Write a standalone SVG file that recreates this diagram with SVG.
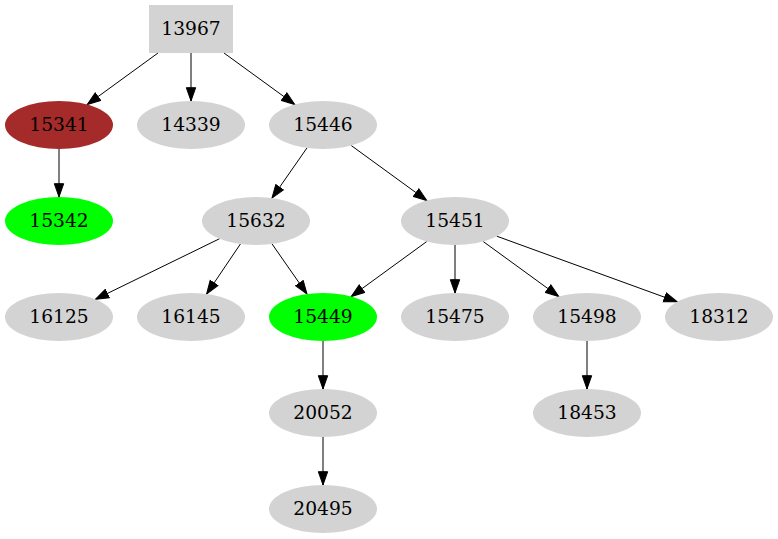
<svg xmlns="http://www.w3.org/2000/svg" width="778" height="539" viewBox="0 0 778 539">
<defs>
<marker id="ah" markerUnits="userSpaceOnUse" markerWidth="16" markerHeight="12" refX="13.8" refY="5.67" orient="auto">
<path d="M0.5,1 L13.8,5.67 L0.5,10.33 z" fill="#000" stroke="#000" stroke-width="1"/>
</marker>
</defs>
<style>
text{font-family:"DejaVu Serif","Liberation Serif",serif;font-size:18.67px;text-anchor:middle;fill:#000}
.n{fill:#d3d3d3}
.e line{stroke:#000;stroke-width:1;marker-end:url(#ah)}
</style>
<rect width="778" height="539" fill="#fff"/>
<g class="e" id="edges">
<line x1="158" y1="53" x2="87.2" y2="104.5"/>
<line x1="191" y1="53" x2="191" y2="101"/>
<line x1="224" y1="53" x2="294.8" y2="104.5"/>
<line x1="59" y1="149" x2="59" y2="197"/>
<line x1="307" y1="147.9" x2="272" y2="198.1"/>
<line x1="351.2" y1="145.5" x2="426.8" y2="200.5"/>
<line x1="219.6" y1="238.7" x2="95.4" y2="299.3"/>
<line x1="240.4" y1="244" x2="206.6" y2="294"/>
<line x1="272" y1="243.9" x2="307" y2="294.1"/>
<line x1="426.8" y1="241.5" x2="351.2" y2="296.5"/>
<line x1="455" y1="245" x2="455" y2="293"/>
<line x1="483.2" y1="241.5" x2="558.8" y2="296.5"/>
<line x1="496.8" y1="236.2" x2="677.2" y2="301.8"/>
<line x1="323" y1="341" x2="323" y2="389"/>
<line x1="587" y1="341" x2="587" y2="389"/>
<line x1="323" y1="437" x2="323" y2="485"/>
</g>
<g id="n13967"><rect class="n" x="149" y="5" width="84" height="48"/><text x="191" y="35">13967</text></g>
<g id="n15341"><ellipse cx="59" cy="125" rx="54" ry="24" fill="#a52a2a"/><text x="59" y="131">15341</text></g>
<g id="n14339"><ellipse class="n" cx="191" cy="125" rx="54" ry="24"/><text x="191" y="131">14339</text></g>
<g id="n15446"><ellipse class="n" cx="323" cy="125" rx="54" ry="24"/><text x="323" y="131">15446</text></g>
<g id="n15342"><ellipse cx="59" cy="221" rx="54" ry="24" fill="#00ff00"/><text x="59" y="227">15342</text></g>
<g id="n15632"><ellipse class="n" cx="256" cy="221" rx="54" ry="24"/><text x="256" y="227">15632</text></g>
<g id="n15451"><ellipse class="n" cx="455" cy="221" rx="54" ry="24"/><text x="455" y="227">15451</text></g>
<g id="n16125"><ellipse class="n" cx="59" cy="317" rx="54" ry="24"/><text x="59" y="323">16125</text></g>
<g id="n16145"><ellipse class="n" cx="191" cy="317" rx="54" ry="24"/><text x="191" y="323">16145</text></g>
<g id="n15449"><ellipse cx="323" cy="317" rx="54" ry="24" fill="#00ff00"/><text x="323" y="323">15449</text></g>
<g id="n15475"><ellipse class="n" cx="455" cy="317" rx="54" ry="24"/><text x="455" y="323">15475</text></g>
<g id="n15498"><ellipse class="n" cx="587" cy="317" rx="54" ry="24"/><text x="587" y="323">15498</text></g>
<g id="n18312"><ellipse class="n" cx="719" cy="317" rx="54" ry="24"/><text x="719" y="323">18312</text></g>
<g id="n20052"><ellipse class="n" cx="323" cy="413" rx="54" ry="24"/><text x="323" y="419">20052</text></g>
<g id="n18453"><ellipse class="n" cx="587" cy="413" rx="54" ry="24"/><text x="587" y="419">18453</text></g>
<g id="n20495"><ellipse class="n" cx="323" cy="509" rx="54" ry="24"/><text x="323" y="515">20495</text></g>
</svg>
